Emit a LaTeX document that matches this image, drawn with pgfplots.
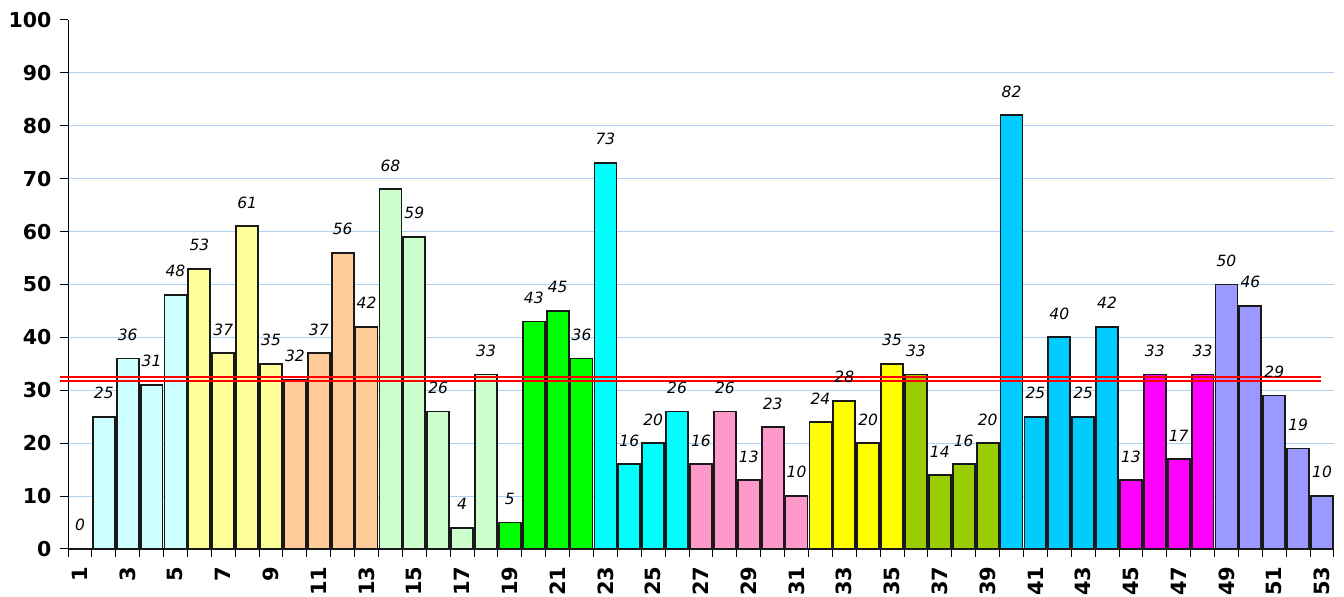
\documentclass[border=0pt]{standalone}
\usepackage{fontspec}
\setmainfont{DejaVu Sans}
\usepackage{pgfplots}
\pgfplotsset{compat=1.18}
\definecolor{gA}{HTML}{CCFFFF}
\definecolor{gB}{HTML}{FFFF99}
\definecolor{gC}{HTML}{FFCC99}
\definecolor{gD}{HTML}{CCFFCC}
\definecolor{gE}{HTML}{00FF00}
\definecolor{gF}{HTML}{00FFFF}
\definecolor{gG}{HTML}{FF99CC}
\definecolor{gH}{HTML}{FFFF00}
\definecolor{gI}{HTML}{99CC00}
\definecolor{gJ}{HTML}{00CCFF}
\definecolor{gK}{HTML}{FF00FF}
\definecolor{gL}{HTML}{9999FF}
\definecolor{gridblue}{HTML}{B0D2F5}
\pgfplotsset{
  mybar/.style={ybar, bar shift=0pt, bar width=0.92, fill=#1, draw=black!90, line width=1.8pt,
    nodes near coords,
    nodes near coords style={font=\fontsize{15.5}{15.5}\selectfont\itshape, anchor=south, inner sep=0pt, yshift=17pt, text=black}},
}
\begin{document}
\begin{tikzpicture}
\begin{axis}[
  scale only axis,
  width=1266pt, height=529pt,
  xmin=0.5, xmax=53.5,
  ymin=0, ymax=100,
  axis x line*=bottom,
  axis y line*=left,
  axis line style={line width=1pt, black},
  clip=false,
  /pgf/number format/assume math mode=true,
  ytick={0,10,...,90},
  extra y ticks={100},
  extra y tick style={grid=none},
  ymajorgrids,
  major grid style={gridblue, line width=1pt},
  ytick style={black, line width=1pt},
  major tick length=8pt,
  tick align=outside,
  yticklabel style={font=\fontsize{20.5}{20.5}\selectfont\bfseries, xshift=-5pt},
  xtick={1,3,...,53},
  minor xtick={0.5,1.5,...,53.5},
  minor tick length=8pt,
  xtick style={draw=none},
  minor x tick style={draw=black, line width=1pt},
  xticklabel style={font=\fontsize{21}{21}\selectfont\bfseries, rotate=90, anchor=east, xshift=-6pt},
]
\addplot[mybar=gA] coordinates {(1,0) (2,25) (3,36) (4,31) (5,48)};
\addplot[mybar=gB] coordinates {(6,53) (7,37) (8,61) (9,35)};
\addplot[mybar=gC] coordinates {(10,32) (11,37) (12,56) (13,42)};
\addplot[mybar=gD] coordinates {(14,68) (15,59) (16,26) (17,4) (18,33)};
\addplot[mybar=gE] coordinates {(19,5) (20,43) (21,45) (22,36)};
\addplot[mybar=gF] coordinates {(23,73) (24,16) (25,20) (26,26)};
\addplot[mybar=gG] coordinates {(27,16) (28,26) (29,13) (30,23) (31,10)};
\addplot[mybar=gH] coordinates {(32,24) (33,28) (34,20) (35,35)};
\addplot[mybar=gI] coordinates {(36,33) (37,14) (38,16) (39,20)};
\addplot[mybar=gJ] coordinates {(40,82) (41,25) (42,40) (43,25) (44,42)};
\addplot[mybar=gK] coordinates {(45,13) (46,33) (47,17) (48,33)};
\addplot[mybar=gL] coordinates {(49,50) (50,46) (51,29) (52,19) (53,10)};
\addplot[red, line width=1.5pt, no markers] coordinates {(0.17,32.55) (52.97,32.55)};
\addplot[red, line width=1.5pt, no markers] coordinates {(0.17,31.75) (52.97,31.75)};
\end{axis}
\pgfresetboundingbox
\path[use as bounding box] (-68pt,-48pt) rectangle (1276pt,549pt);
\end{tikzpicture}
\end{document}
